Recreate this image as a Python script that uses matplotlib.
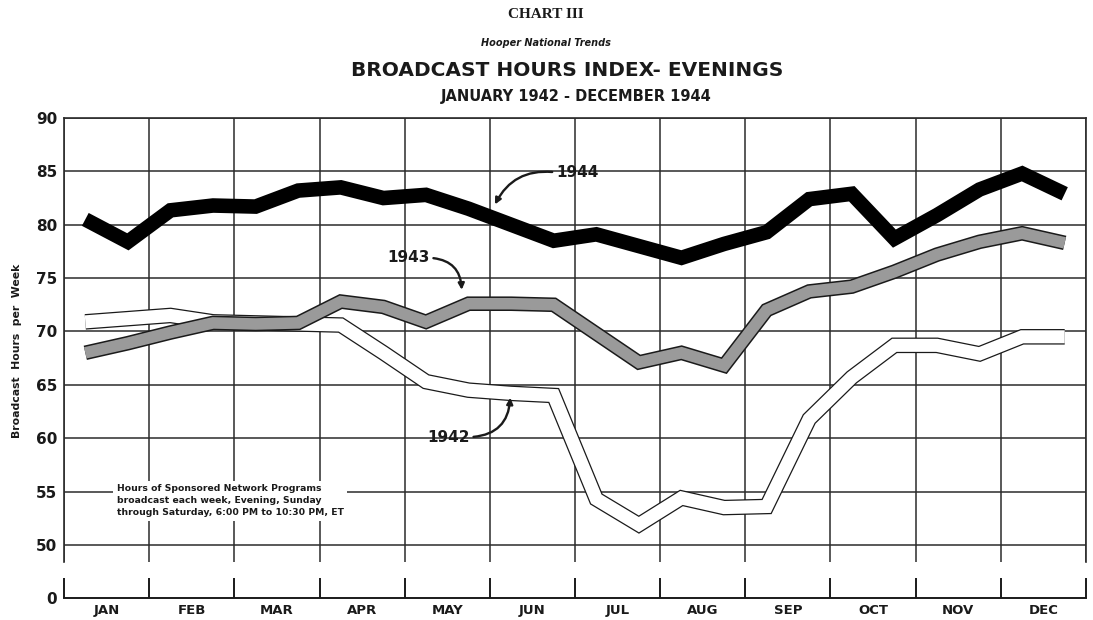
import matplotlib
matplotlib.use("Agg")
import matplotlib.pyplot as plt
import numpy as np

# ---------------- data (semi-monthly readings) ----------------
months = ["JAN", "FEB", "MAR", "APR", "MAY", "JUN",
          "JUL", "AUG", "SEP", "OCT", "NOV", "DEC"]
hours_1942 = [70.9, 71.2, 71.5, 70.9, 70.8, 70.7, 70.6, 68.0, 65.3, 64.5, 64.2, 64.0,
              54.3, 51.9, 54.4, 53.5, 53.6, 61.8, 65.7, 68.7, 68.7, 67.9, 69.5, 69.5]
hours_1943 = [68.0, 68.9, 69.9, 70.8, 70.7, 70.8, 72.8, 72.3, 70.9, 72.6, 72.6, 72.5,
              69.8, 67.1, 68.0, 66.8, 72.0, 73.75, 74.2, 75.6, 77.2, 78.4, 79.2, 78.3]
hours_1944 = [80.5, 78.4, 81.35, 81.8, 81.7, 83.2, 83.5, 82.5, 82.8, 81.5, 80.0, 78.5,
              79.1, 78.0, 76.9, 78.2, 79.3, 82.4, 82.9, 78.7, 80.9, 83.3, 84.8, 82.9]
y_ticks = [50, 55, 60, 65, 70, 75, 80, 85, 90]
note_text = ("Hours of Sponsored Network Programs\n"
             "broadcast each week, Evening, Sunday\n"
             "through Saturday, 6:00 PM to 10:30 PM, ET")

W, H = 1093, 620
fig = plt.figure(figsize=(W / 100, H / 100), dpi=100)
fig.patch.set_facecolor("white")


def px(l, t, r, b):
    return [l / W, 1 - b / H, (r - l) / W, (b - t) / H]


FONT = "DejaVu Sans"
INK = "#1a1a1a"

# ---------------- main chart ----------------
ax = fig.add_axes(px(64, 118, 1086, 562))
ax.set_xlim(0, 12)
ax.set_ylim(48.4, 90)
ax.set_yticks(y_ticks)
ax.set_yticklabels([str(v) for v in y_ticks], fontsize=11, fontweight="bold",
                   family=FONT, color=INK)
ax.set_xticks(range(13))
ax.set_xticklabels([])
ax.tick_params(length=0, pad=5)
ax.grid(True, color="#2b2b2b", lw=1.1, zorder=1)
for s in ["left", "right", "top"]:
    ax.spines[s].set_color("#2b2b2b")
    ax.spines[s].set_linewidth(1.2)
ax.spines["bottom"].set_visible(False)

x = (np.arange(len(hours_1944)) + 0.5) / 2.0
kw = dict(solid_joinstyle="miter", solid_capstyle="butt")
ax.plot(x, hours_1942, color=INK, lw=11.2, zorder=3, **kw)
ax.plot(x, hours_1942, color="white", lw=9.4, zorder=3.1, **kw)
ax.plot(x, hours_1943, color=INK, lw=10.5, zorder=4, **kw)
ax.plot(x, hours_1943, color="#9a9a9a", lw=8.3, zorder=4.1, **kw)
ax.plot(x, hours_1944, color="black", lw=10.5, zorder=5, **kw)

# labels with curved arrows
arrow = dict(arrowstyle="-|>", color=INK, lw=1.7, mutation_scale=9)
ax.annotate("1944", xy=(5.06, 81.9), xytext=(6.03, 84.9), fontsize=11,
            fontweight="bold", family=FONT, color=INK, ha="center", va="center",
            arrowprops=dict(connectionstyle="arc3,rad=0.35", shrinkA=1, shrinkB=0,
                            relpos=(0.0, 0.5), **arrow), zorder=6)
ax.annotate("1943", xy=(4.67, 73.9), xytext=(4.04, 76.9), fontsize=11,
            fontweight="bold", family=FONT, color=INK, ha="center", va="center",
            arrowprops=dict(connectionstyle="arc3,rad=-0.45", shrinkA=1, shrinkB=0,
                            relpos=(1.0, 0.5), **arrow), zorder=6)
ax.annotate("1942", xy=(5.24, 63.8), xytext=(4.51, 60.1), fontsize=11,
            fontweight="bold", family=FONT, color=INK, ha="center", va="center",
            arrowprops=dict(connectionstyle="arc3,rad=0.45", shrinkA=1, shrinkB=0,
                            relpos=(1.0, 0.5), **arrow), zorder=6)

ax.text(0.62, 54.15, note_text, fontsize=6.7, fontweight="bold", family=FONT,
        color=INK, ha="left", va="center", linespacing=1.45, zorder=6,
        bbox=dict(facecolor="white", edgecolor="none", pad=2.5))

ax.set_ylabel("Broadcast  Hours  per  Week", fontsize=7.8, fontweight="bold",
              family=FONT, color=INK)
ax.yaxis.set_label_coords(-0.041, 0.475)

# ---------------- lower month axis ----------------
bx = fig.add_axes(px(64, 578, 1086, 598))
bx.set_xlim(0, 12)
bx.set_ylim(0, 1)
bx.patch.set_alpha(0)
for s in ["left", "right", "top"]:
    bx.spines[s].set_visible(False)
bx.spines["bottom"].set_color(INK)
bx.spines["bottom"].set_linewidth(1.4)
bx.set_xticks(range(13))
bx.set_xticklabels([])
bx.tick_params(axis="x", which="major", direction="in", length=14.5, width=1.4,
               color=INK)
bx.set_xticks(np.arange(12) + 0.5, minor=True)
bx.set_xticklabels(months, minor=True, fontsize=9.5, fontweight="bold",
                   family=FONT, color=INK)
bx.tick_params(axis="x", which="minor", length=0, pad=4)
bx.set_yticks([0])
bx.set_yticklabels(["0"], fontsize=11, fontweight="bold", family=FONT, color=INK)
bx.tick_params(axis="y", length=0, pad=5)

# ---------------- titles ----------------
fig.text(546 / W, 1 - 14 / H, "CHART III", fontsize=11, family="Liberation Serif",
         fontweight="bold", color=INK, ha="center", va="center")
fig.text(546 / W, 1 - 43 / H, "Hooper National Trends", fontsize=7, family=FONT,
         fontweight="bold", style="italic", color=INK, ha="center", va="center")
fig.text(567 / W, 1 - 70 / H, "BROADCAST HOURS INDEX- EVENINGS", fontsize=14.5,
         family=FONT, fontweight="heavy", color=INK, ha="center", va="center")
fig.text(576 / W, 1 - 97 / H, "JANUARY 1942 - DECEMBER 1944", fontsize=10.5,
         family=FONT, fontweight="bold", color=INK, ha="center", va="center")

fig.savefig("out.png", dpi=100, facecolor="white")
